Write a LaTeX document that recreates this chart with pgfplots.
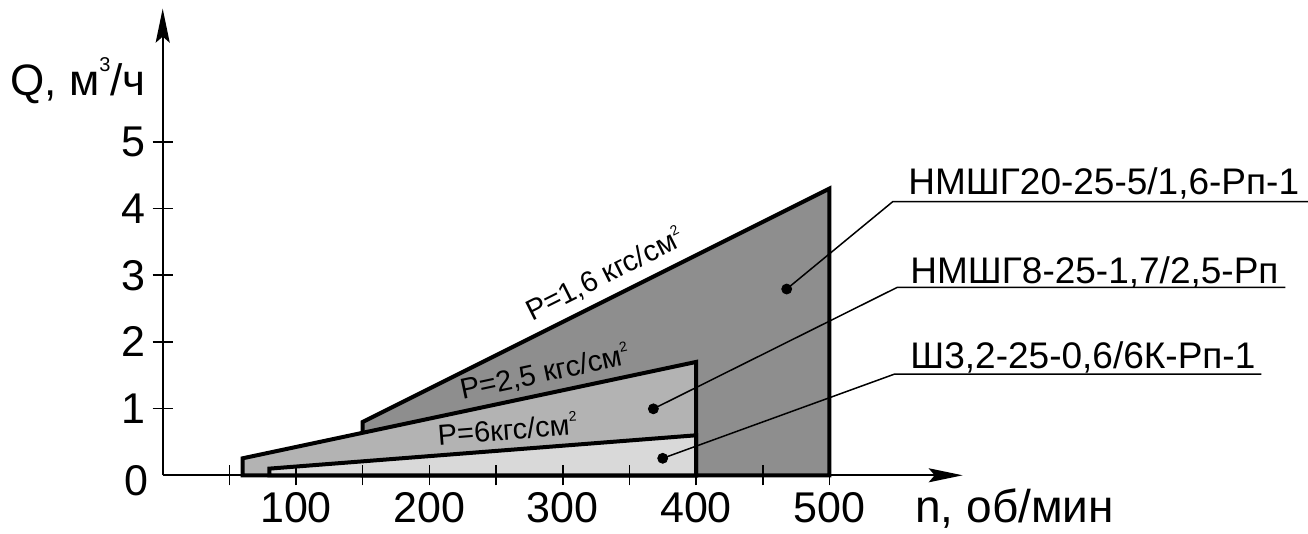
\documentclass[border=0pt]{standalone}
\usepackage{fontspec}
\setmainfont{Liberation Sans}
\usepackage{pgfplots}
\pgfplotsset{compat=1.18}
\usetikzlibrary{arrows.meta}
\definecolor{dk}{RGB}{142,142,142}
\definecolor{md}{RGB}{179,179,179}
\definecolor{lt}{RGB}{217,217,217}
\newcommand{\sq}{\raisebox{0.85ex}{\fontsize{7}{7}\selectfont 2}}
\begin{document}
\begin{tikzpicture}
\useasboundingbox (-81.35pt,-29.35pt) rectangle (572.65pt,237.65pt);
\begin{axis}[
 at={(0,0)}, anchor=origin,
 x=0.66667pt, y=33.3333pt,
 xmin=0, xmax=600, ymin=0, ymax=7,
 axis lines=left,
 axis line style={line width=1pt, -{Stealth[length=17pt,width=7pt,inset=3pt]}},
 clip=false,
 axis on top=true,
 xtick={50,100,...,500},
 xticklabels={,100,,200,,300,,400,,500},
 ytick={1,2,3,4,5},
 yticklabels={1,2,3,4,5},
 tick align=center,
 major tick length=10pt,
 tick style={black, line width=0.8pt},
 ticklabel style={font=\fontsize{21.5}{24}\selectfont},
]
\addplot[draw=black, line width=2pt, fill=dk] coordinates {(150,0) (150,0.8) (500,4.3) (500,0)} --cycle;
\addplot[draw=black, line width=2pt, fill=md] coordinates {(60,0) (60,0.255) (400,1.7) (400,0)} --cycle;
\addplot[draw=black, line width=2pt, fill=lt] coordinates {(80,0) (80,0.1) (400,0.6) (400,0)} --cycle;

\addplot[black, line width=0.75pt] coordinates {(468,2.794) (547.5,4.104) (1104,4.104)};
\addplot[black, line width=0.75pt] coordinates {(368,0.997) (551,2.82) (842,2.82)};
\addplot[black, line width=0.75pt] coordinates {(375,0.255) (549,1.519) (824,1.519)};
\addplot[only marks, mark=*, mark size=2.5pt, black] coordinates {(468,2.794) (368,0.997) (375,0.255)};

\node[anchor=base, rotate=26.57, inner sep=0pt, font=\fontsize{14.5}{16}\selectfont] at (axis cs:334.7,2.884) {P=1,6 кгс/см\sq};
\node[anchor=base, rotate=12.06, inner sep=0pt, font=\fontsize{14.5}{16}\selectfont] at (axis cs:288,1.404) {P=2,5 кгс/см\sq};
\node[anchor=base, rotate=4.47, inner sep=0pt, font=\fontsize{14.5}{16}\selectfont] at (axis cs:259.2,0.534) {P=6кгс/см\sq};

\node[anchor=base west, inner sep=0pt, font=\fontsize{18.5}{22}\selectfont] at (axis cs:559,4.216) {НМШГ20-25-5/1,6-Рп-1};
\node[anchor=base west, inner sep=0pt, font=\fontsize{18.5}{22}\selectfont] at (axis cs:560.5,2.88) {НМШГ8-25-1,7/2,5-Рп};
\node[anchor=base west, inner sep=0pt, font=\fontsize{18.5}{22}\selectfont] at (axis cs:560.5,1.605) {Ш3,2-25-0,6/6К-Рп-1};

\node[anchor=base west, inner sep=0pt, font=\fontsize{22}{24}\selectfont] at (axis cs:-114.5,5.69) {Q, м\raisebox{1.05ex}{\fontsize{10}{10}\selectfont 3}/ч};
\node[anchor=base west, inner sep=0pt, font=\fontsize{23}{26}\selectfont] at (axis cs:564.2,-0.715) {n, об/мин};
\node[anchor=center, inner sep=0pt, font=\fontsize{21.5}{24}\selectfont] at (axis cs:-19.65,-0.085) {0};
\end{axis}
\end{tikzpicture}
\end{document}
